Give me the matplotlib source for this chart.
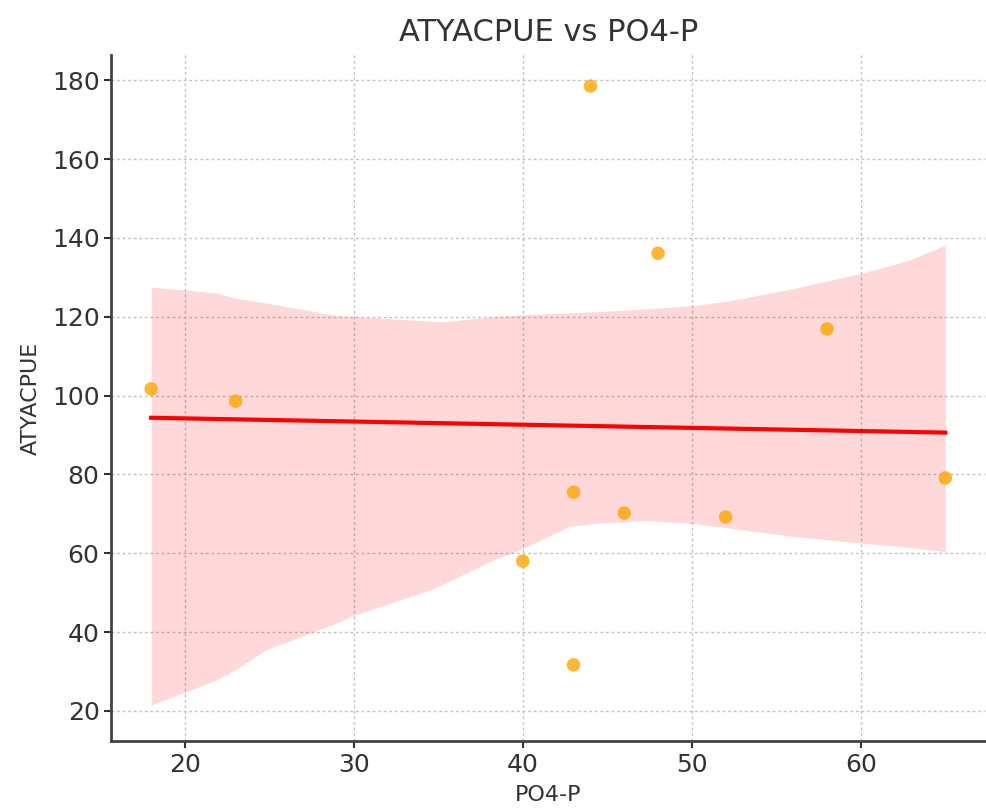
import matplotlib
matplotlib.use('Agg')
import matplotlib.pyplot as plt
import numpy as np

# data points
po4 = [18, 23, 40, 43, 43, 44, 46, 48, 52, 58, 65]
atya = [101.7, 98.6, 58.0, 75.5, 31.7, 178.5, 70.2, 136.1, 69.2, 116.9, 79.1]

# confidence band edges
band_x = [18, 19.9, 21.9, 23, 24.8, 28.8, 30.1, 34.5, 35.2, 38.5, 39.6,
          42.8, 44.4, 47.3, 50.2, 52.2, 56.1, 60, 62.9, 65]
band_hi = [127.5, 126.8, 126.0, 124.7, 123.5, 120.4, 120.0, 118.9, 118.7, 120.1, 120.4,
           121.0, 121.3, 122.0, 122.9, 124.0, 127.2, 131.0, 134.4, 138.2]
band_lo = [21.5, 24.6, 27.9, 30.5, 35.5, 42.0, 44.4, 50.7, 52.0, 58.8, 60.4,
           66.9, 67.6, 68.3, 67.5, 66.4, 64.2, 62.6, 61.5, 60.4]

fig = plt.figure(figsize=(9.86, 8.08), dpi=100)
ax = fig.add_axes([0.113, 0.083, 0.886, 0.849])

ax.fill_between(band_x, band_lo, band_hi, color='red', alpha=0.15, linewidth=0, zorder=1)

slope, icpt = np.polyfit(po4, atya, 1)
xs = np.array([min(po4), max(po4)])
ax.plot(xs, slope * xs + icpt, color='red', linewidth=3, zorder=3)

ax.scatter(po4, atya, color='orange', s=95, alpha=0.8, edgecolors='none', zorder=4)

ax.grid(True, linestyle=(0, (2, 2)), color='#c4c4c4', linewidth=1)
ax.set_axisbelow(True)
for s in ['top', 'right']:
    ax.spines[s].set_visible(False)
for s in ['left', 'bottom']:
    ax.spines[s].set_color('#444444')
    ax.spines[s].set_linewidth(2)

ax.set_xlim(15.65, 67.35)
ax.set_ylim(12.4, 186.4)
ax.set_xticks([20, 30, 40, 50, 60])
ax.set_yticks(range(20, 181, 20))
ax.tick_params(labelsize=18, colors='#333333', length=5, width=1.5)

ax.set_title('ATYACPUE vs PO4-P', fontsize=22, color='#333333', pad=10)
ax.set_xlabel('PO4-P', fontsize=16, color='#333333', labelpad=6)
ax.set_ylabel('ATYACPUE', fontsize=16, color='#333333', labelpad=8)

fig.savefig('out.png', dpi=100)
